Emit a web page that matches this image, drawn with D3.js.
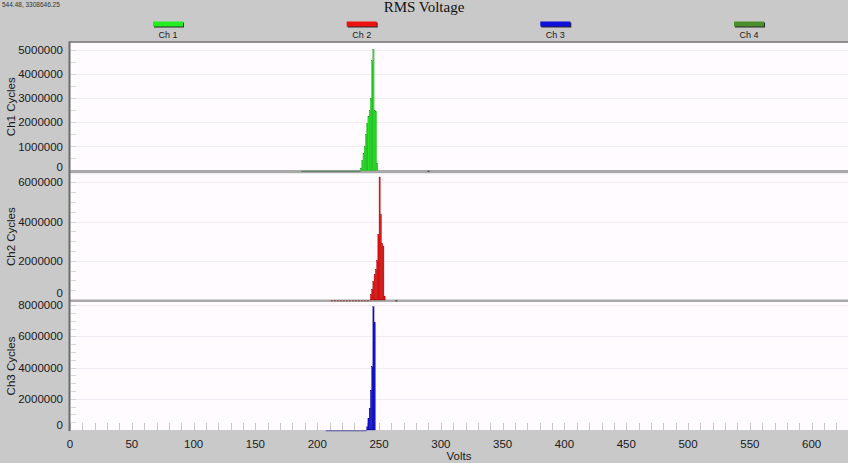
<!DOCTYPE html>
<html><head><meta charset="utf-8">
<script src="https://cdn.jsdelivr.net/npm/d3@7"></script>
<style>
body{margin:0;background:#c9c9c9;}
svg{display:block;font-family:"Liberation Sans",Arial,sans-serif;}
</style>
</head><body>
<svg id="c" width="848" height="463"></svg>
<script>
// ---------- data ----------
const chartTitle = "RMS Voltage";
const cursorReadout = "544.48, 3308646.25";
const seriesNames = ["Ch 1", "Ch 2", "Ch 3", "Ch 4"];
const xTickLabels = [0, 50, 100, 150, 200, 250, 300, 350, 400, 450, 500, 550, 600];
const xAxisTitle = "Volts";

const ch1YTicks = [0, 1000000, 2000000, 3000000, 4000000, 5000000];
const ch2YTicks = [0, 2000000, 4000000, 6000000];
const ch3YTicks = [0, 2000000, 4000000, 6000000, 8000000];

// histogram bins (1 V wide, left edge in volts) and cycle counts
const ch1Volts  = [235, 236, 237, 238, 239, 240, 241, 242, 243, 244, 245, 246, 247, 248];
const ch1Cycles = [100000, 420000, 700000, 1000000, 1500000, 1950000, 2250000, 2500000, 3000000, 4550000, 5020000, 2500000, 2450000, 300000];
const ch1Tail = [187, 235];      // low-count range drawn along the baseline
const ch1Outliers = [290];

const ch2Volts  = [243, 244, 245, 246, 247, 248, 249, 250, 251, 252, 253, 254];
const ch2Cycles = [300000, 550000, 950000, 1300000, 1550000, 2000000, 3350000, 6270000, 4350000, 2900000, 2750000, 200000];
const ch2Tail = [211, 243];
const ch2Outliers = [264];

const ch3Volts  = [240, 241, 242, 243, 244, 245, 246];
const ch3Cycles = [200000, 750000, 1400000, 2550000, 4050000, 7900000, 6900000];
const ch3Tail = [207, 240];
const ch3Outliers = [];

// ---------- drawing ----------
const W = 848, H = 463, left = 70, right = 848;
const colors = ["#22ee22", "#ee1111", "#1010d8", "#4a8f2c"];
const strokes = ["#0b8a0b", "#990000", "#000090", "#2d5a1a"];
const tailColors = ["#4d7a4d", "#8a3030", "#5050a0"];

const svg = d3.select("#c");
svg.append("rect").attr("width", W).attr("height", H).attr("fill", "#c9c9c9");

const x = d3.scaleLinear().domain([0, 629.4]).range([left, right]);

const panels = [
  {top: 43,    base: 170.5, max: 5.29e6, ticks: ch1YTicks, title: "Ch1 Cycles", volts: ch1Volts, cycles: ch1Cycles, tail: ch1Tail, outliers: ch1Outliers, band: true,  zeroShift: 4},
  {top: 173.3, base: 300,   max: 6.46e6, ticks: ch2YTicks, title: "Ch2 Cycles", volts: ch2Volts, cycles: ch2Cycles, tail: ch2Tail, outliers: ch2Outliers, band: true,  zeroShift: 7},
  {top: 302,   base: 430,   max: 8.2e6,  ticks: ch3YTicks, title: "Ch3 Cycles", volts: ch3Volts, cycles: ch3Cycles, tail: ch3Tail, outliers: ch3Outliers, band: false, zeroShift: 5}
];

panels.forEach((p, i) => {
  const y = d3.scaleLinear().domain([0, p.max]).range([p.base, p.top]);
  const g = svg.append("g");
  // plot background
  g.append("rect").attr("x", left).attr("y", p.top).attr("width", right - left)
    .attr("height", p.base - p.top).attr("fill", "#fffbff");
  // gridlines
  g.selectAll(".grid").data(p.ticks.filter(t => t > 0)).join("line")
    .attr("x1", left).attr("x2", right)
    .attr("y1", d => Math.round(y(d)) + 0.5).attr("y2", d => Math.round(y(d)) + 0.5)
    .attr("stroke", "#f1ebf3").attr("stroke-width", 1);
  // minor y ticks
  g.selectAll(".minor").data(d3.range(500000, p.max, 500000)).join("line")
    .attr("x1", left + 1).attr("x2", left + 6)
    .attr("y1", d => Math.round(y(d)) + 0.5).attr("y2", d => Math.round(y(d)) + 0.5)
    .attr("stroke", "#d6d6d6").attr("stroke-width", 1);
  // separator band
  if (p.band) {
    g.append("rect").attr("x", left).attr("y", p.base - 0.5).attr("width", right - left)
      .attr("height", 3.3).attr("fill", "#a9a9a9");
  }
  // x ticks in bottom panel
  if (!p.band) {
    g.selectAll(".xt").data(d3.range(0, 630, 10)).join("line")
      .attr("x1", d => Math.round(x(d)) + 0.5).attr("x2", d => Math.round(x(d)) + 0.5)
      .attr("y1", p.base).attr("y2", p.base - 7)
      .attr("stroke", "#c6c6c6").attr("stroke-width", 1);
  }
  // tail line along baseline
  g.append("line").attr("x1", x(p.tail[0])).attr("x2", x(p.tail[1]))
    .attr("y1", p.base + 0.8).attr("y2", p.base + 0.8)
    .attr("stroke", tailColors[i]).attr("stroke-width", 1)
    .attr("stroke-dasharray", i === 1 ? "2,1" : null);
  g.selectAll(".out").data(p.outliers).join("rect")
    .attr("x", d => x(d) - 1).attr("y", p.base).attr("width", 2).attr("height", 1.5)
    .attr("fill", "#555");
  // bars
  g.selectAll(".bar").data(p.volts.map((v, k) => ({v, c: p.cycles[k]}))).join("rect")
    .attr("x", d => x(d.v)).attr("width", d => x(d.v + 1) - x(d.v))
    .attr("y", d => y(d.c)).attr("height", d => p.base - y(d.c))
    .attr("fill", colors[i]).attr("stroke", strokes[i]).attr("stroke-width", 0.3);
  // y tick labels
  g.selectAll(".yl").data(p.ticks).join("text")
    .attr("x", 63).attr("y", d => y(d) - (d === 0 ? p.zeroShift : 0)).attr("dy", "0.36em")
    .attr("text-anchor", "end").attr("font-size", "11.5px").attr("fill", "#1a1a1a")
    .text(d => d3.format("d")(d));
  // axis title
  g.append("text").attr("transform", `translate(15,${(p.top + p.base) / 2}) rotate(-90)`)
    .attr("text-anchor", "middle").attr("font-size", "11.5px").attr("fill", "#1a1a1a")
    .text(p.title);
});

// top border and left axis
svg.append("line").attr("x1", left - 1).attr("x2", right).attr("y1", 42).attr("y2", 42)
  .attr("stroke", "#7c7c7c").attr("stroke-width", 1.5);
svg.append("line").attr("x1", left - 0.5).attr("x2", left - 0.5).attr("y1", 41.5).attr("y2", 431)
  .attr("stroke", "#6c6c6c").attr("stroke-width", 2);

// x tick labels
svg.selectAll(".xl").data(xTickLabels).join("text")
  .attr("x", d => x(d)).attr("y", 448).attr("text-anchor", "middle")
  .attr("font-size", "11.5px").attr("fill", "#1a1a1a").text(d => d);
svg.append("text").attr("x", (left + right) / 2).attr("y", 460).attr("text-anchor", "middle")
  .attr("font-size", "11.5px").attr("fill", "#1a1a1a").text(xAxisTitle);

// title and readout
svg.append("text").attr("x", 424).attr("y", 12).attr("text-anchor", "middle")
  .attr("font-family", "'Liberation Serif','Times New Roman',serif").attr("font-size", "15px")
  .attr("fill", "#111").text(chartTitle);
svg.append("text").attr("x", 2).attr("y", 7).attr("font-size", "6.5px").attr("fill", "#333")
  .text(cursorReadout);

// legend
const legendX = d3.scalePoint().domain(seriesNames).range([168, 749]);
const lg = svg.selectAll(".lg").data(seriesNames).join("g")
  .attr("transform", d => `translate(${legendX(d)},0)`);
lg.append("rect").attr("x", -14).attr("y", 22.5).attr("width", 30).attr("height", 5).attr("fill", "#2a2a2a");
lg.append("rect").attr("x", -15).attr("y", 21.5).attr("width", 30).attr("height", 5)
  .attr("fill", (d, i) => colors[i]);
lg.append("text").attr("y", 38).attr("text-anchor", "middle").attr("font-size", "9px")
  .attr("fill", "#1a1a1a").text(d => d);
</script>
</body></html>
